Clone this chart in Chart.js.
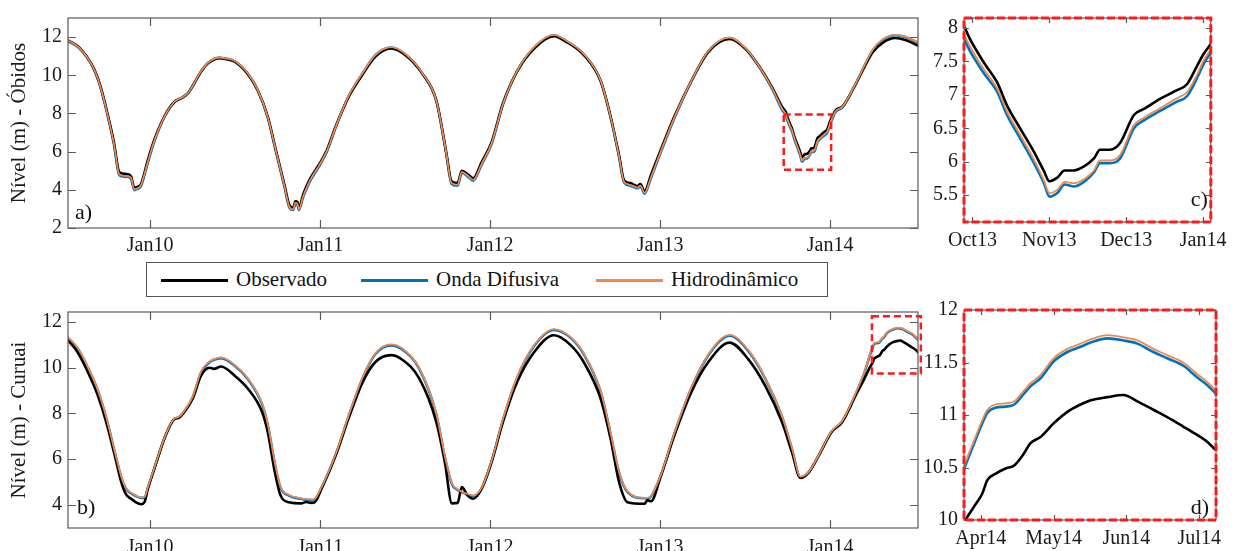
<!DOCTYPE html>
<html>
<head>
<meta charset="utf-8">
<script src="https://cdn.jsdelivr.net/npm/chart.js@4.4.0/dist/chart.umd.min.js"></script>
<style>
  body { margin: 0; background: #fff; width: 1234px; height: 551px; overflow: hidden; position: relative; font-family: 'Liberation Serif', 'Times New Roman', serif; }
  .panel { position: absolute; }
  #legend { position: absolute; left: 146px; top: 262px; width: 682px; height: 35px; border: 1px solid #555; box-sizing: border-box; background: #fff; font-size: 21px; color: #111; }
  .item { position: absolute; top: 0; height: 33px; line-height: 33px; white-space: nowrap; }
  .swatch { display: inline-block; width: 67px; height: 3px; vertical-align: middle; margin-right: 8px; position: relative; top: -1px; }
</style>
</head>
<body>
<div class="panel" style="left:0;top:0;width:932px;height:258px"><canvas id="chartA"></canvas></div>
<div class="panel" style="left:0;top:290px;width:932px;height:261px"><canvas id="chartB"></canvas></div>
<div class="panel" style="left:920px;top:0;width:314px;height:255px"><canvas id="chartC"></canvas></div>
<div class="panel" style="left:920px;top:290px;width:314px;height:261px"><canvas id="chartD"></canvas></div>
<div id="legend">
  <div class="item" style="left:14px"><span class="swatch" style="background:#000"></span>Observado</div>
  <div class="item" style="left:214px"><span class="swatch" style="background:#0072BD"></span>Onda Difusiva</div>
  <div class="item" style="left:449px"><span class="swatch" style="background:#EC8A50"></span>Hidrodinâmico</div>
</div>
<script>
// x values are months counted from Jan 2000 (120 = Jan10, 168 = Jan14)
const monthNames = ['Jan','Feb','Mar','Apr','May','Jun','Jul','Aug','Sep','Oct','Nov','Dec'];

// Óbidos
const obidosMonths = [
  114.2, 115.0, 116.0, 116.5, 117.0, 117.45, 117.8, 118.05, 118.4, 118.65,
  118.88, 119.1, 119.35, 119.85, 120.3, 121.0, 121.7, 122.3, 122.7, 123.6,
  124.1, 124.9, 125.3, 126.0, 126.9, 127.6, 128.3, 128.8, 129.3, 129.5,
  129.8, 130.1, 130.25, 130.4, 130.5, 130.8, 131.3, 131.9, 132.5, 133.1,
  134.0, 135.0, 135.9, 137.0, 138.0, 139.2, 140.2, 140.9, 141.27, 141.7,
  142.0, 142.45, 142.8, 143.4, 144.1, 144.9, 145.9, 147.1, 148.5, 149.4,
  150.6, 151.8, 152.5, 153.1, 153.45, 153.9, 154.4, 154.6, 154.9, 155.35,
  156.06, 157.0, 158.2, 159.4, 160.9, 162.0, 162.9, 163.9, 164.6, 164.87,
  164.97, 165.15, 165.32, 165.45, 165.62, 165.8, 165.93, 166.0, 166.1, 166.2,
  166.32, 166.45, 166.58, 166.66, 166.79, 166.92, 167.1, 167.23, 167.44, 167.66,
  167.79, 167.92, 168.0, 168.08, 168.4, 168.85, 169.8, 171.0, 171.7, 172.6,
  173.3, 174.2
];
const obidosObs = [
  11.83, 11.45, 10.39, 9.4, 7.95, 6.45, 4.95, 4.85, 4.82, 4.7,
  4.1, 4.15, 4.3, 5.6, 6.64, 7.84, 8.6, 8.85, 9.1, 10.2,
  10.64, 10.9, 10.85, 10.7, 10.05, 9.2, 7.84, 6.31, 4.8, 4.2,
  3.25, 3.05, 3.4, 3.35, 3.05, 3.76, 4.6, 5.3, 6.13, 7.33,
  8.86, 10.05, 10.98, 11.4, 11.07, 10.1, 8.68, 5.96, 4.45, 4.35,
  5.0, 4.8, 4.6, 5.45, 6.5, 8.52, 10.2, 11.4, 12.05, 11.74,
  11.07, 9.7, 7.84, 5.8, 4.5, 4.35, 4.2, 4.3, 3.92, 4.78,
  6.13, 7.84, 9.7, 11.23, 11.9, 11.4, 10.56, 9.37, 8.35, 8.07,
  7.83, 7.48, 7.19, 6.84, 6.5, 6.15, 5.86, 5.71, 5.76, 5.87,
  5.87, 5.93, 6.05, 6.18, 6.18, 6.28, 6.7, 6.79, 6.94, 7.07,
  7.16, 7.43, 7.6, 7.73, 8.18, 8.35, 9.54, 11.2, 11.7, 11.95,
  11.85, 11.55
];
const obidosOnda = [
  11.8, 11.42, 10.36, 9.35, 7.88, 6.35, 4.8, 4.7, 4.68, 4.58,
  3.98, 4.05, 4.2, 5.45, 6.55, 7.8, 8.58, 8.84, 9.08, 10.2,
  10.66, 10.92, 10.88, 10.72, 10.08, 9.2, 7.8, 6.25, 4.7, 4.08,
  3.12, 2.95, 3.3, 3.22, 2.95, 3.62, 4.48, 5.2, 6.05, 7.28,
  8.88, 10.1, 11.05, 11.45, 11.1, 10.1, 8.66, 5.9, 4.32, 4.22,
  4.9, 4.68, 4.48, 5.32, 6.4, 8.45, 10.2, 11.45, 12.1, 11.78,
  11.1, 9.7, 7.8, 5.72, 4.38, 4.22, 4.08, 4.18, 3.8, 4.62,
  6.0, 7.75, 9.68, 11.25, 11.95, 11.42, 10.55, 9.3, 8.2, 7.88,
  7.65, 7.32, 7.05, 6.7, 6.35, 5.98, 5.68, 5.48, 5.53, 5.66,
  5.63, 5.7, 5.84, 5.98, 5.98, 6.05, 6.5, 6.62, 6.76, 6.9,
  6.98, 7.25, 7.45, 7.6, 8.1, 8.3, 9.55, 11.3, 11.85, 12.1,
  12.0, 11.7
];
const obidosHidro = [
  11.82, 11.44, 10.38, 9.37, 7.9, 6.38, 4.84, 4.74, 4.72, 4.62,
  4.02, 4.08, 4.24, 5.5, 6.58, 7.82, 8.6, 8.86, 9.1, 10.22,
  10.67, 10.93, 10.89, 10.73, 10.09, 9.22, 7.82, 6.28, 4.74, 4.12,
  3.16, 2.98, 3.33, 3.26, 2.98, 3.66, 4.52, 5.24, 6.08, 7.3,
  8.9, 10.12, 11.06, 11.47, 11.12, 10.12, 8.68, 5.93, 4.36, 4.26,
  4.94, 4.72, 4.52, 5.36, 6.43, 8.48, 10.22, 11.47, 12.12, 11.8,
  11.12, 9.72, 7.82, 5.75, 4.42, 4.26, 4.12, 4.22, 3.84, 4.66,
  6.04, 7.78, 9.7, 11.27, 11.97, 11.44, 10.57, 9.33, 8.26, 7.95,
  7.72, 7.38, 7.1, 6.75, 6.4, 6.03, 5.72, 5.53, 5.58, 5.7,
  5.68, 5.74, 5.87, 6.02, 6.02, 6.1, 6.55, 6.66, 6.8, 6.95,
  7.04, 7.3, 7.5, 7.65, 8.13, 8.33, 9.57, 11.32, 11.87, 12.12,
  12.02, 11.72
];

// Curuai
const curuaiMonths = [
  114.2, 114.87, 115.6, 116.3, 116.9, 117.5, 117.96, 118.3, 118.65, 119.0,
  119.36, 119.6, 119.84, 120.3, 121.0, 121.7, 122.0, 122.4, 123.0, 123.6,
  124.2, 124.5, 125.0, 125.95, 126.9, 127.9, 128.3, 128.8, 129.2, 129.8,
  130.7, 131.0, 131.4, 131.6, 132.1, 133.1, 134.0, 135.0, 135.9, 137.0,
  137.8, 139.0, 140.2, 140.8, 141.3, 141.7, 142.0, 142.4, 142.8, 143.4,
  144.1, 144.9, 145.9, 147.1, 148.5, 149.7, 150.6, 151.8, 152.5, 153.1,
  153.7, 154.9, 155.1, 155.35, 156.06, 157.0, 158.2, 159.4, 160.9, 162.2,
  163.4, 164.6, 165.3, 165.9, 166.5, 167.2, 168.1, 168.85, 169.8, 170.4,
  170.79, 170.91, 171.02, 171.09, 171.2, 171.34, 171.46, 171.59, 171.68, 171.82,
  172.0, 172.19, 172.37, 172.51, 172.74, 172.96, 173.15, 173.37, 173.56, 173.78,
  173.97, 174.1, 174.22
];
const curuaiObs = [
  11.2, 10.69, 9.81, 8.79, 7.62, 6.16, 4.99, 4.45, 4.26, 4.1,
  4.02, 4.11, 4.7, 5.58, 6.89, 7.75, 7.8, 8.05, 8.64, 9.66,
  10.0, 9.95, 10.05, 9.66, 9.08, 8.06, 7.18, 5.43, 4.41, 4.11,
  4.06, 4.12, 4.08, 4.1, 4.7, 6.16, 7.77, 9.37, 10.25, 10.55,
  10.35, 9.52, 7.62, 5.87, 4.06, 4.08, 4.77, 4.41, 4.26, 4.7,
  5.87, 7.62, 9.37, 10.68, 11.42, 10.98, 10.25, 8.64, 6.89, 4.99,
  4.11, 4.04, 4.2, 4.15, 5.28, 7.03, 8.93, 10.25, 11.1, 10.39,
  9.23, 7.62, 6.3, 5.17, 5.43, 6.16, 7.18, 7.62, 8.79, 9.5,
  10.0, 10.13, 10.25, 10.38, 10.44, 10.49, 10.52, 10.63, 10.73, 10.79,
  10.92, 11.03, 11.1, 11.14, 11.17, 11.19, 11.13, 11.05, 10.98, 10.89,
  10.81, 10.75, 10.67
];
const curuaiOnda = [
  11.3, 10.85, 10.0, 9.0, 7.8, 6.3, 5.2, 4.7, 4.5, 4.38,
  4.3, 4.3, 4.75, 5.6, 6.9, 7.75, 7.82, 8.08, 8.7, 9.8,
  10.25, 10.35, 10.42, 10.1, 9.5, 8.4, 7.5, 5.8, 4.75, 4.4,
  4.25, 4.22, 4.2, 4.22, 4.75, 6.2, 7.85, 9.55, 10.6, 10.98,
  10.8, 9.95, 7.95, 6.1, 4.9, 4.65, 4.55, 4.45, 4.38, 4.72,
  5.9, 7.7, 9.55, 10.95, 11.65, 11.3, 10.6, 8.95, 7.1, 5.4,
  4.55, 4.28, 4.28, 4.35, 5.3, 7.1, 9.1, 10.55, 11.4, 10.75,
  9.55, 7.85, 6.45, 5.2, 5.43, 6.16, 7.2, 7.65, 8.85, 9.75,
  10.52, 10.73, 10.92, 11.02, 11.07, 11.08, 11.1, 11.2, 11.27, 11.35,
  11.51, 11.6, 11.65, 11.69, 11.73, 11.71, 11.68, 11.6, 11.54, 11.47,
  11.36, 11.29, 11.21
];
const curuaiHidro = [
  11.34, 10.88, 10.03, 9.03, 7.83, 6.33, 5.23, 4.72, 4.52, 4.4,
  4.32, 4.32, 4.77, 5.62, 6.92, 7.77, 7.84, 8.1, 8.72, 9.84,
  10.28, 10.38, 10.45, 10.13, 9.53, 8.43, 7.53, 5.83, 4.78, 4.43,
  4.27, 4.24, 4.22, 4.24, 4.77, 6.22, 7.88, 9.58, 10.63, 11.02,
  10.84, 9.98, 7.98, 6.13, 4.93, 4.68, 4.57, 4.47, 4.4, 4.74,
  5.92, 7.73, 9.58, 10.98, 11.69, 11.33, 10.63, 8.98, 7.13, 5.43,
  4.58, 4.3, 4.3, 4.37, 5.32, 7.13, 9.13, 10.58, 11.44, 10.79,
  9.58, 7.88, 6.48, 5.23, 5.45, 6.18, 7.22, 7.67, 8.88, 9.78,
  10.55, 10.76, 10.95, 11.05, 11.1, 11.11, 11.13, 11.23, 11.3, 11.38,
  11.54, 11.63, 11.68, 11.72, 11.76, 11.74, 11.71, 11.63, 11.57, 11.5,
  11.39, 11.32, 11.24
];

// ticks
const yearTicks = [120, 132, 144, 156, 168];
const ticksC = [165, 166, 167, 168];
const ticksD = [171, 172, 173, 174];
const yTicksA = [2, 4, 6, 8, 10, 12];
const yTicksB = [4, 6, 8, 10, 12];
const yTicksC = [5.5, 6, 6.5, 7, 7.5, 8];
const yTicksD = [10, 10.5, 11, 11.5, 12];

// zoom windows [xmin, xmax, ymin, ymax]
const windowC = [164.89, 168.1, 5.1, 8.15];
const windowD = [170.77, 174.23, 10, 12];
const boxOnA = [164.72, 168.07, 5.05, 7.95];
const boxOnB = [170.95, 174.4, 9.75, 12.25];

const serif = "'Liberation Serif', 'Times New Roman', serif";

function monthLabel(v) {
  return monthNames[((v % 12) + 12) % 12] + String(Math.floor(v / 12)).padStart(2, '0');
}

const framePlugin = {
  id: 'frame',
  afterDatasetsDraw(chart, args, opts) {
    const { ctx, chartArea: a, scales } = chart;
    const x = scales.x, y = scales.y;
    const tl = opts.tick || 8;
    ctx.save();
    ctx.strokeStyle = '#5a5a5a';
    ctx.lineWidth = 1.2;
    ctx.beginPath();
    x.ticks.forEach(t => {
      const px = Math.round(x.getPixelForValue(t.value)) + 0.5;
      ctx.moveTo(px, a.bottom); ctx.lineTo(px, a.bottom - tl);
      ctx.moveTo(px, a.top); ctx.lineTo(px, a.top + tl);
    });
    y.ticks.forEach(t => {
      const py = Math.round(y.getPixelForValue(t.value)) + 0.5;
      ctx.moveTo(a.left, py); ctx.lineTo(a.left + tl, py);
      ctx.moveTo(a.right, py); ctx.lineTo(a.right - tl, py);
    });
    ctx.stroke();
    ctx.strokeRect(a.left, a.top, a.width, a.height);

    if (opts.dashed) {
      ctx.strokeStyle = '#ff1a1a';
      ctx.lineWidth = 3;
      ctx.setLineDash([8, 3]);
      ctx.strokeRect(a.left, a.top, a.width, a.height);
      ctx.setLineDash([]);
    }
    if (opts.box) {
      const [x0, x1, y0, y1] = opts.box;
      const l = x.getPixelForValue(x0), r = x.getPixelForValue(x1);
      const t = y.getPixelForValue(y1), b = y.getPixelForValue(y0);
      ctx.strokeStyle = '#ff1a1a';
      ctx.lineWidth = 2.5;
      ctx.setLineDash([7, 4]);
      ctx.strokeRect(l, t, r - l, b - t);
      ctx.setLineDash([]);
    }
    if (opts.tag) {
      ctx.fillStyle = '#111';
      ctx.font = '22px ' + serif;
      ctx.textBaseline = 'middle';
      if (opts.tagSide === 'right') {
        ctx.textAlign = 'right';
        ctx.fillText(opts.tag, a.right - opts.tagDx, a.bottom - opts.tagDy);
      } else {
        ctx.textAlign = 'left';
        ctx.fillText(opts.tag, a.left + opts.tagDx, a.bottom - opts.tagDy);
      }
    }
    ctx.restore();
  }
};

function makeDatasets(months, obs, onda, hidro) {
  const pts = arr => arr.map((v, i) => ({ x: months[i], y: v }));
  return [
    { label: 'Hidrodinâmico', data: pts(hidro), borderColor: '#EC8A50', borderWidth: 1.8, order: 0 },
    { label: 'Observado', data: pts(obs), borderColor: '#000000', borderWidth: 2.6, order: 1 },
    { label: 'Onda Difusiva', data: pts(onda), borderColor: '#0072BD', borderWidth: 2.6, order: 2 }
  ];
}

function makeChart(id, cfg) {
  return new Chart(document.getElementById(id), {
    type: 'line',
    data: { datasets: cfg.datasets },
    plugins: [framePlugin],
    options: {
      responsive: true,
      maintainAspectRatio: false,
      animation: false,
      layout: { padding: cfg.padding },
      elements: {
        point: { radius: 0 },
        line: { cubicInterpolationMode: 'monotone', borderJoinStyle: 'round', borderCapStyle: 'round' }
      },
      plugins: {
        legend: { display: false },
        tooltip: { enabled: false },
        frame: cfg.frame
      },
      scales: {
        x: {
          type: 'linear',
          min: cfg.xRange[0], max: cfg.xRange[1],
          afterBuildTicks: s => { s.ticks = cfg.xTicks.map(v => ({ value: v })); },
          afterFit: s => { s.height = cfg.xHeight; },
          grid: { display: false, drawTicks: false },
          border: { display: false },
          ticks: {
            autoSkip: false, maxRotation: 0, padding: cfg.xPad,
            color: '#1a1a1a', font: { family: serif, size: 20 },
            callback: v => monthLabel(v)
          }
        },
        y: {
          min: cfg.yRange[0], max: cfg.yRange[1],
          afterBuildTicks: s => { s.ticks = cfg.yTicks.map(v => ({ value: v })); },
          afterFit: s => { s.width = cfg.yWidth; },
          grid: { display: false, drawTicks: false },
          border: { display: false },
          ticks: {
            padding: 6, color: '#1a1a1a', font: { family: serif, size: 20 },
            callback: v => String(v)
          },
          title: cfg.yTitle ? {
            display: true, text: cfg.yTitle, color: '#1a1a1a',
            font: { family: serif, size: 21 }, padding: { top: 7, bottom: 0 }
          } : { display: false }
        }
      }
    }
  });
}

makeChart('chartA', {
  datasets: makeDatasets(obidosMonths, obidosObs, obidosOnda, obidosHidro),
  padding: { left: 0, top: 12, right: 14, bottom: 0 },
  xRange: [114.2, 174.2], xTicks: yearTicks, xHeight: 30, xPad: 6,
  yRange: [2, 13], yTicks: yTicksA, yWidth: 68,
  yTitle: 'Nível (m) - Óbidos',
  frame: { tick: 8, box: boxOnA, tag: 'a)', tagDx: 7, tagDy: 15 }
});

makeChart('chartB', {
  datasets: makeDatasets(curuaiMonths, curuaiObs, curuaiOnda, curuaiHidro),
  padding: { left: 0, top: 22, right: 14, bottom: 0 },
  xRange: [114.2, 174.2], xTicks: yearTicks, xHeight: 23, xPad: 8,
  yRange: [2.98, 12.44], yTicks: yTicksB, yWidth: 68,
  yTitle: 'Nível (m) - Curuai',
  frame: { tick: 8, box: boxOnB, tag: 'b)', tagDx: 9, tagDy: 20 }
});

makeChart('chartC', {
  datasets: makeDatasets(obidosMonths, obidosObs, obidosOnda, obidosHidro),
  padding: { left: 0, top: 15, right: 18, bottom: 0 },
  xRange: [windowC[0], windowC[1]], xTicks: ticksC, xHeight: 33, xPad: 7,
  yRange: [windowC[2], windowC[3]], yTicks: yTicksC, yWidth: 44,
  frame: { tick: 5, dashed: true, tag: 'c)', tagSide: 'right', tagDx: 3, tagDy: 22 }
});

makeChart('chartD', {
  datasets: makeDatasets(curuaiMonths, curuaiObs, curuaiOnda, curuaiHidro),
  padding: { left: 0, top: 20, right: 18, bottom: 0 },
  xRange: [windowD[0], windowD[1]], xTicks: ticksD, xHeight: 31, xPad: 7,
  yRange: [windowD[2], windowD[3]], yTicks: yTicksD, yWidth: 44,
  frame: { tick: 5, dashed: true, tag: 'd)', tagSide: 'right', tagDx: 7, tagDy: 12 }
});
</script>
</body>
</html>
